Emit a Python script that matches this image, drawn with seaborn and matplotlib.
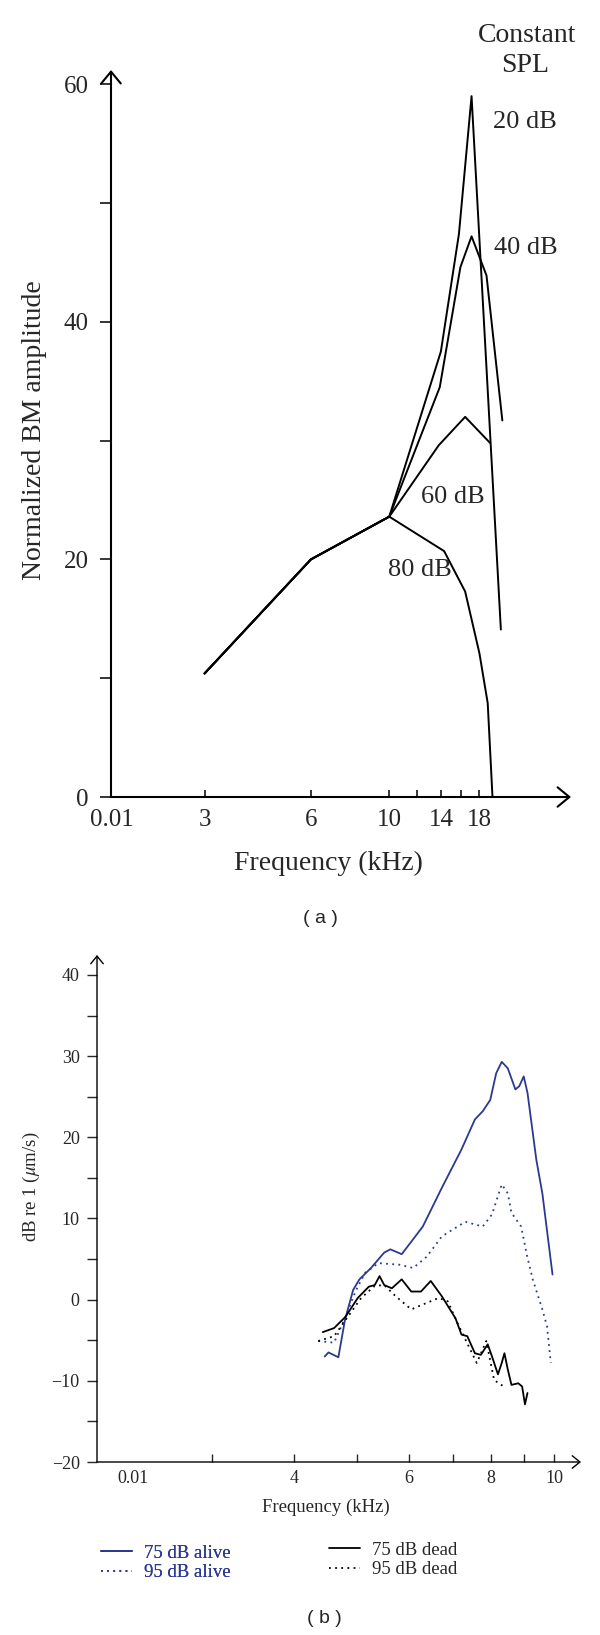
import numpy as np
import matplotlib
matplotlib.use("Agg")
import matplotlib.pyplot as plt
import seaborn as sns
from matplotlib.ticker import FixedLocator, NullLocator

# (a) normalized BM amplitude vs frequency, one curve per SPL
freq_20 = [3, 6, 10, 14.0, 15.75, 17.1, 20.7]
amp_20 = [10.4, 20.0, 23.6, 37.5, 47.4, 59.0, 14.1]
freq_40 = [3, 6, 10, 13.9, 15.9, 17.1, 18.85, 20.9]
amp_40 = [10.4, 20.0, 23.6, 34.5, 44.6, 47.2, 43.9, 31.7]
freq_60 = [3, 6, 10, 13.8, 16.4, 19.3]
amp_60 = [10.4, 20.0, 23.6, 29.6, 32.0, 29.8]
freq_80 = [3, 6, 10, 14.3, 16.4, 18.0, 19.0, 19.6]
amp_80 = [10.4, 20.0, 23.6, 20.7, 17.3, 12.1, 7.9, 0]

top_xticks = [1.64, 3, 6, 10, 12, 14, 16, 18]
top_xlabels = ["0.01", "3", "6", "10", "", "14", "", "18"]

# (b) BM velocity, alive vs dead
f_alive75 = [4.46, 4.52, 4.68, 4.79, 4.93, 5.04, 5.25, 5.50, 5.62, 5.85, 6.30, 6.74, 7.22,
             7.57, 7.78, 7.99, 8.16, 8.32, 8.50, 8.73, 8.85, 8.99, 9.11, 9.40, 9.60, 9.95]
v_alive75 = [-7.0, -6.5, -7.1, -2.5, 1.2, 2.5, 3.9, 5.8, 6.2, 5.6, 9.0, 13.8, 18.5,
             22.2, 23.2, 24.6, 27.9, 29.3, 28.5, 25.9, 26.3, 27.5, 25.5, 17.2, 13.1, 3.1]
f_alive95 = [4.36, 4.61, 4.80, 4.97, 5.14, 5.39, 5.81, 6.09, 6.39, 6.74, 7.32, 7.78, 8.04,
             8.32, 8.50, 8.61, 8.91, 9.09, 9.28, 9.60, 9.76, 9.89]
v_alive95 = [-5.1, -5.3, -2.1, 1.0, 3.3, 4.5, 4.3, 3.9, 5.3, 7.8, 9.6, 9.0, 10.5,
             14.2, 13.1, 10.7, 9.0, 5.5, 2.5, -1.2, -3.3, -7.8]
f_dead75 = [4.43, 4.61, 4.80, 5.01, 5.21, 5.32, 5.41, 5.50, 5.65, 5.85, 6.05, 6.26, 6.48,
            6.74, 7.07, 7.22, 7.37, 7.57, 7.73, 7.92, 8.04, 8.21, 8.32, 8.40, 8.50, 8.61,
            8.82, 8.94, 9.03, 9.11]
v_dead75 = [-4.0, -3.5, -2.1, 0.2, 1.6, 1.8, 2.9, 1.8, 1.4, 2.5, 1.0, 1.0, 2.3,
            0.4, -2.3, -4.3, -4.5, -6.6, -6.8, -5.5, -7.0, -9.2, -7.8, -6.6, -8.6, -10.5,
            -10.3, -10.7, -12.9, -11.5]
f_dead95 = [4.36, 4.61, 4.87, 5.07, 5.32, 5.50, 5.73, 6.05, 6.30, 6.66, 6.88, 7.12, 7.32,
            7.62, 7.88, 8.10, 8.38]
v_dead95 = [-5.1, -4.5, -1.8, 0.2, 1.7, 1.8, 0.4, -1.2, -0.6, 0.2, -0.2, -2.9, -4.9,
            -7.8, -5.1, -9.9, -10.7]

bot_xticks = [2.27, 3, 4, 5, 6, 7, 8, 9, 10]
bot_xlabels = ["0.01", "", "4", "", "6", "", "8", "", "10"]

blue = "#2b3990"
W, H = 600, 1635


def fx(px):
    return px / W


def fy(py):
    return 1 - py / H


def arrow_axes(ax, lw, hl, hw):
    for s in ["top", "right", "left", "bottom"]:
        ax.spines[s].set_visible(False)
    style = f"->,head_length={hl},head_width={hw}"
    for end in [(1, 0), (0, 1)]:
        ax.annotate("", xy=end, xytext=(0, 0), xycoords="axes fraction",
                    arrowprops=dict(arrowstyle=style, lw=lw, color="black",
                                    shrinkA=0, shrinkB=0),
                    annotation_clip=False)


sns.set_style("ticks")
plt.rcParams["font.family"] = ["Liberation Serif", "DejaVu Serif"]
plt.rcParams["mathtext.fontset"] = "stix"

fig = plt.figure(figsize=(6, 16.35), dpi=100)

# ---- panel (a)
ax1 = fig.add_axes([fx(111), fy(797), fx(571) - fx(111), fy(70) - fy(797)])
for f, a in [(freq_20, amp_20), (freq_40, amp_40), (freq_60, amp_60), (freq_80, amp_80)]:
    sns.lineplot(x=f, y=a, ax=ax1, color="black", lw=1.4, sort=False,
                 estimator=None, legend=False)
ax1.set_xscale("log")
ax1.set_xlim(1.63, 32.7)
ax1.set_ylim(0, 61.2)
ax1.xaxis.set_major_locator(FixedLocator(top_xticks))
ax1.xaxis.set_minor_locator(NullLocator())
ax1.set_xticklabels(top_xlabels)
ax1.yaxis.set_major_locator(FixedLocator([0, 20, 40, 60]))
ax1.yaxis.set_minor_locator(FixedLocator([10, 30, 50]))
ax1.tick_params(axis="y", which="both", direction="out", length=8, width=1.3,
                pad=8, labelsize=18)
ax1.tick_params(axis="x", which="both", direction="in", length=5, width=1.3,
                pad=9, labelsize=18)
ax1.xaxis.get_major_ticks()[0].tick1line.set_visible(False)
arrow_axes(ax1, 1.5, 0.85, 0.7)

fig.text(fx(328), fy(863), "Frequency (kHz)", fontsize=20, ha="center", va="center")
fig.text(fx(35), fy(430), "Normalized BM amplitude", fontsize=20, rotation=90,
         ha="center", va="center")
fig.text(fx(527), fy(35), "Constant", fontsize=20, ha="center", va="center")
fig.text(fx(525), fy(66), "SPL", fontsize=20, ha="center", va="center")
fig.text(fx(525), fy(122), "20 dB", fontsize=19, ha="center", va="center")
fig.text(fx(526), fy(248), "40 dB", fontsize=19, ha="center", va="center")
fig.text(fx(453), fy(497), "60 dB", fontsize=19, ha="center", va="center")
fig.text(fx(420), fy(570), "80 dB", fontsize=19, ha="center", va="center")
fig.text(fx(320), fy(918), "( a )", fontsize=14, ha="center", va="center",
         family=["Liberation Sans", "DejaVu Sans"])

# ---- panel (b)
ax2 = fig.add_axes([fx(97), fy(1462), fx(581) - fx(97), fy(955) - fy(1462)])
dots = (0, (1, 2.4))
sns.lineplot(x=f_alive75, y=v_alive75, ax=ax2, color=blue, lw=1.3, sort=False,
             estimator=None, label="75 dB alive")
sns.lineplot(x=f_alive95, y=v_alive95, ax=ax2, color=blue, lw=1.3, sort=False,
             estimator=None, label="95 dB alive", linestyle=dots)
sns.lineplot(x=f_dead75, y=v_dead75, ax=ax2, color="black", lw=1.3, sort=False,
             estimator=None, label="75 dB dead")
sns.lineplot(x=f_dead95, y=v_dead95, ax=ax2, color="black", lw=1.3, sort=False,
             estimator=None, label="95 dB dead", linestyle=dots)
if ax2.get_legend() is not None:
    ax2.get_legend().remove()
ax2.set_xscale("log")
ax2.set_xlim(2.0, 11.0)
ax2.set_ylim(-20, 42.46)
ax2.xaxis.set_major_locator(FixedLocator(bot_xticks))
ax2.xaxis.set_minor_locator(NullLocator())
ax2.set_xticklabels(bot_xlabels)
ax2.yaxis.set_major_locator(FixedLocator([-20, -10, 0, 10, 20, 30, 40]))
ax2.yaxis.set_minor_locator(FixedLocator([-15, -5, 5, 15, 25, 35]))
ax2.tick_params(axis="y", which="both", direction="out", length=7.5, width=1.0,
                pad=5, labelsize=13)
ax2.tick_params(axis="x", which="both", direction="in", length=6, width=1.0,
                pad=6, labelsize=13)
ax2.xaxis.get_major_ticks()[0].tick1line.set_visible(False)
arrow_axes(ax2, 1.0, 0.55, 0.45)

fig.text(fx(326), fy(1507), "Frequency (kHz)", fontsize=13.5, ha="center", va="center")
fig.text(fx(31), fy(1187), r"dB re 1 ($\mu$m/s)", fontsize=13.5, rotation=90,
         ha="center", va="center")

handles, labels = ax2.get_legend_handles_labels()
leg1 = fig.legend(handles[:2], labels[:2], loc="upper left",
                  bbox_to_anchor=(fx(92), fy(1535)), frameon=False, fontsize=13.5,
                  handlelength=1.65, handletextpad=0.6, labelspacing=0.15,
                  borderpad=0, labelcolor=[blue, blue])
leg2 = fig.legend(handles[2:], labels[2:], loc="upper left",
                  bbox_to_anchor=(fx(320), fy(1532)), frameon=False, fontsize=13.5,
                  handlelength=1.65, handletextpad=0.6, labelspacing=0.15,
                  borderpad=0)
fig.add_artist(leg1)

fig.text(fx(324), fy(1618), "( b )", fontsize=14, ha="center", va="center",
         family=["Liberation Sans", "DejaVu Sans"])

fig.savefig("out.png", dpi=100)
